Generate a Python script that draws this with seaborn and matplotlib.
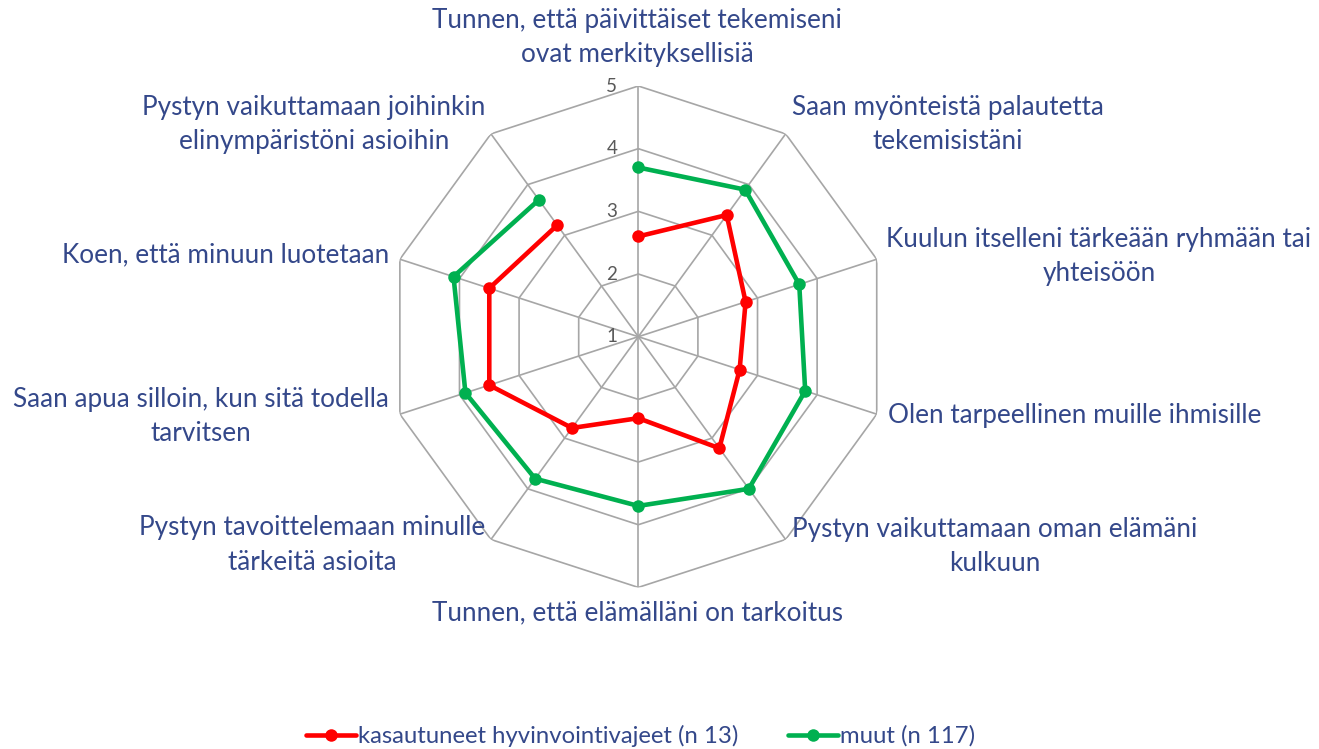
import numpy as np
import pandas as pd
import matplotlib
matplotlib.use("Agg")
import matplotlib.pyplot as plt
import seaborn as sns

categories = [
    "Tunnen, että päivittäiset tekemiseni\novat merkityksellisiä",
    "Saan myönteistä palautetta\ntekemisistäni",
    "Kuulun itselleni tärkeään ryhmään tai\nyhteisöön",
    "Olen tarpeellinen muille ihmisille",
    "Pystyn vaikuttamaan oman elämäni\nkulkuun",
    "Tunnen, että elämälläni on tarkoitus",
    "Pystyn tavoittelemaan minulle\ntärkeitä asioita",
    "Saan apua silloin, kun sitä todella\ntarvitsen",
    "Koen, että minuun luotetaan",
    "Pystyn vaikuttamaan joihinkin\nelinympäristöni asioihin",
]
red_values = [2.6, 3.4, 2.8, 2.7, 3.2, 2.3, 2.8, 3.5, 3.5, 3.2]
green_values = [3.7, 3.9, 3.7, 3.8, 4.0, 3.7, 3.8, 3.9, 4.1, 3.7]
series_names = ["kasautuneet hyvinvointivajeet (n 13)", "muut (n 117)"]
tick_levels = [1, 2, 3, 4, 5]

sns.set_theme(style="white")
plt.rcParams["font.family"] = ["Lato", "DejaVu Sans"]

W, H = 1319, 749
fig = plt.figure(figsize=(W / 100, H / 100), dpi=100)
cx, cy, R = 638.3, 336.7, 250.7
ax = fig.add_axes([(cx - R) / W, 1 - (cy + R) / H, 2 * R / W, 2 * R / H], projection="polar")
ax.set_theta_zero_location("N")
ax.set_theta_direction(-1)
ax.set_ylim(1, 5)
ax.grid(False)
ax.set_xticks([])
ax.set_yticks([])
ax.spines["polar"].set_visible(False)
ax.patch.set_alpha(0)

n = len(categories)
theta = np.arange(n) * 2 * np.pi / n
theta_c = np.append(theta, theta[0])

grid_col = "#A6A6A6"
for lv in tick_levels[1:]:
    ax.plot(theta_c, [lv] * (n + 1), color=grid_col, lw=1.2, zorder=1)
for t in theta:
    ax.plot([t, t], [1, 5], color=grid_col, lw=1.2, zorder=1)

for lv in tick_levels:
    ax.annotate(str(lv), xy=(0, lv), xytext=(-21, 0), textcoords="offset pixels",
                ha="right", va="center", fontsize=13.5, color="#595959")

colors = ["#FF0000", "#00B050"]
for vals, name, col in zip([red_values, green_values], series_names, colors):
    df = pd.DataFrame({"theta": theta_c, "r": list(vals) + [vals[0]]})
    sns.lineplot(data=df, x="theta", y="r", ax=ax, sort=False, color=col, lw=3.3,
                 marker="o", markersize=9, markeredgewidth=0, label=name, zorder=3)
ax.get_legend().remove()
ax.set_xlabel("")
ax.set_ylabel("")

text_col = "#34488A"
fs = 18.8
label_pos = [
    (637, 37.5), (948, 124.5), (1099, 256), (1075, 415), (995, 546.5),
    (638, 613), (312, 545), (201, 416.5), (226, 255), (314, 124.5),
]
for lab, (x, y) in zip(categories, label_pos):
    fig.text(x / W, 1 - y / H, lab, ha="center", va="center", multialignment="center",
             fontsize=fs, color=text_col, linespacing=1.45)

handles, labels = ax.get_legend_handles_labels()
fig.legend(handles, labels, loc="center", bbox_to_anchor=(640.5 / W, 1 - 736 / H), ncol=2,
           frameon=False, fontsize=17.2, labelcolor=text_col, handlelength=2.1,
           handletextpad=0.08, columnspacing=2.1)

fig.savefig("out.png", dpi=100, facecolor="white")
